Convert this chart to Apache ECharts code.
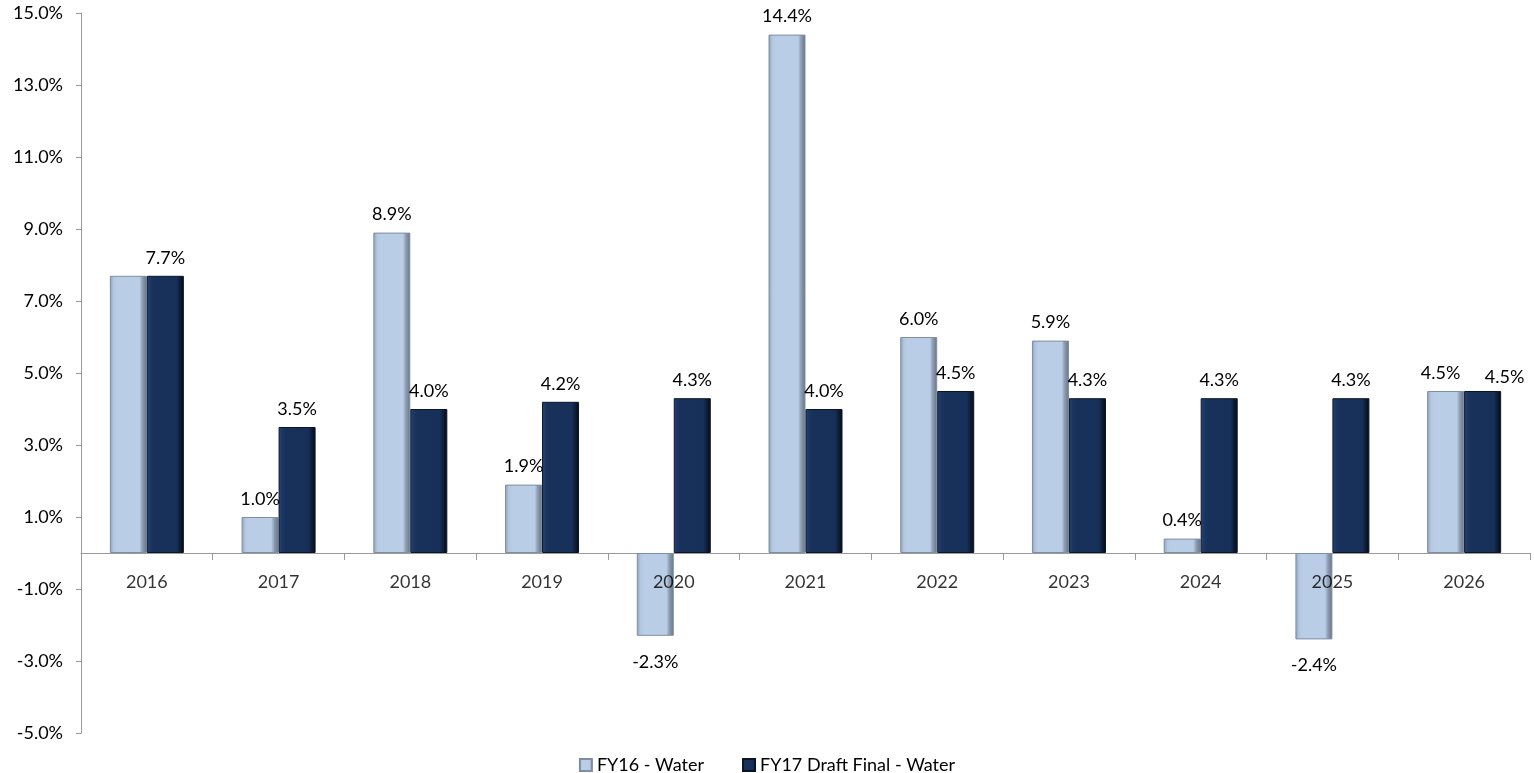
<!DOCTYPE html>
<html>
<head>
<meta charset="utf-8">
<script src="https://cdn.jsdelivr.net/npm/echarts@6/dist/echarts.min.js"></script>
<style>
  html, body { margin: 0; padding: 0; background: #fff; }
  #chart { width: 1534px; height: 773px; }
</style>
</head>
<body>
<div id="chart"></div>
<script>
// Annual water rate change, two forecasts
const years = ['2016', '2017', '2018', '2019', '2020', '2021', '2022', '2023', '2024', '2025', '2026'];
const fy16Water = [7.7, 1.0, 8.9, 1.9, -2.3, 14.4, 6.0, 5.9, 0.4, -2.4, 4.5];
const fy17DraftWater = [7.7, 3.5, 4.0, 4.2, 4.3, 4.0, 4.5, 4.3, 4.3, 4.3, 4.5];
const seriesNames = ['FY16 - Water', 'FY17 Draft Final - Water'];
// value labels left off (overlapping the neighbouring label)
const fy16HiddenLabels = ['2016'];
// labels nudged apart where two equal values sit side by side
const fy16LabelNudge = { '2026': [-5, 0] };
const fy17LabelNudge = { '2026': [22, 4] };

const FONT = 'Lato, "Open Sans", sans-serif';
const FONT_SIZE = 18;

// Bevelled look: darker sides, flat face
const lightFill = new echarts.graphic.LinearGradient(0, 0, 1, 0, [
  { offset: 0, color: '#8e9fb4' },
  { offset: 0.1, color: '#b3c7e0' },
  { offset: 0.2, color: '#b9cde6' },
  { offset: 0.8, color: '#b9cde6' },
  { offset: 0.88, color: '#8d9db2' },
  { offset: 1, color: '#667284' }
]);
const darkFill = new echarts.graphic.LinearGradient(0, 0, 1, 0, [
  { offset: 0, color: '#2c4670' },
  { offset: 0.1, color: '#1b3661' },
  { offset: 0.2, color: '#17315b' },
  { offset: 0.8, color: '#17305a' },
  { offset: 0.9, color: '#0d1c38' },
  { offset: 1, color: '#050a14' }
]);

function buildData(values, hidden, nudge) {
  return values.map((v, i) => {
    const hide = hidden.indexOf(years[i]) !== -1;
    return {
      value: v,
      label: {
        show: !hide,
        position: v < 0 ? 'bottom' : 'top',
        distance: v < 0 ? 17 : 9,
        offset: nudge[years[i]] || [0, 0]
      }
    };
  });
}

const labelStyle = {
  color: '#000',
  fontFamily: FONT,
  fontSize: FONT_SIZE,
  formatter: p => p.value.toFixed(1) + '%'
};

const chart = echarts.init(document.getElementById('chart'));
chart.setOption({
  animation: false,
  backgroundColor: '#fff',
  grid: { left: 81, right: 4, top: 13, bottom: 40, containLabel: false },
  legend: {
    top: 751,
    left: 'center',
    itemWidth: 12,
    itemHeight: 12,
    itemGap: 38,
    icon: 'rect',
    textStyle: { color: '#000', fontFamily: FONT, fontSize: FONT_SIZE },
    data: seriesNames
  },
  xAxis: {
    type: 'category',
    data: years,
    boundaryGap: true,
    axisLine: { onZero: true, lineStyle: { color: '#9a9a9a', width: 1 } },
    axisTick: { show: true, interval: 0, length: 7, lineStyle: { color: '#9a9a9a' } },
    axisLabel: { show: false },
    splitLine: { show: false }
  },
  yAxis: {
    type: 'value',
    min: -5,
    max: 15,
    interval: 2,
    axisLine: { show: true, lineStyle: { color: '#9a9a9a', width: 1 } },
    axisTick: { show: true, length: 5, lineStyle: { color: '#9a9a9a' } },
    axisLabel: {
      color: '#000', fontFamily: FONT, fontSize: FONT_SIZE, margin: 18,
      formatter: v => v.toFixed(1) + '%'
    },
    splitLine: { show: false }
  },
  series: [
    {
      name: seriesNames[0],
      type: 'bar',
      barWidth: 37,
      barGap: '0%',
      itemStyle: { color: lightFill, borderColor: '#7f8ea2', borderWidth: 1 },
      label: labelStyle,
      data: buildData(fy16Water, fy16HiddenLabels, fy16LabelNudge)
    },
    {
      name: seriesNames[1],
      type: 'bar',
      barWidth: 37,
      barGap: '0%',
      itemStyle: { color: darkFill, borderColor: '#0b1528', borderWidth: 1 },
      label: labelStyle,
      data: buildData(fy17DraftWater, [], fy17LabelNudge)
    },
    {
      // category names sitting just under the zero line, drawn over the bars
      name: 'yearLabels',
      type: 'scatter',
      silent: true,
      z: 10,
      symbolSize: 1,
      itemStyle: { color: 'rgba(0,0,0,0)' },
      label: {
        show: true,
        position: 'bottom',
        distance: 20,
        color: '#000',
        fontFamily: FONT,
        fontSize: FONT_SIZE,
        formatter: p => p.name
      },
      data: years.map(y => ({ name: y, value: [y, 0] }))
    }
  ]
});
</script>
</body>
</html>
